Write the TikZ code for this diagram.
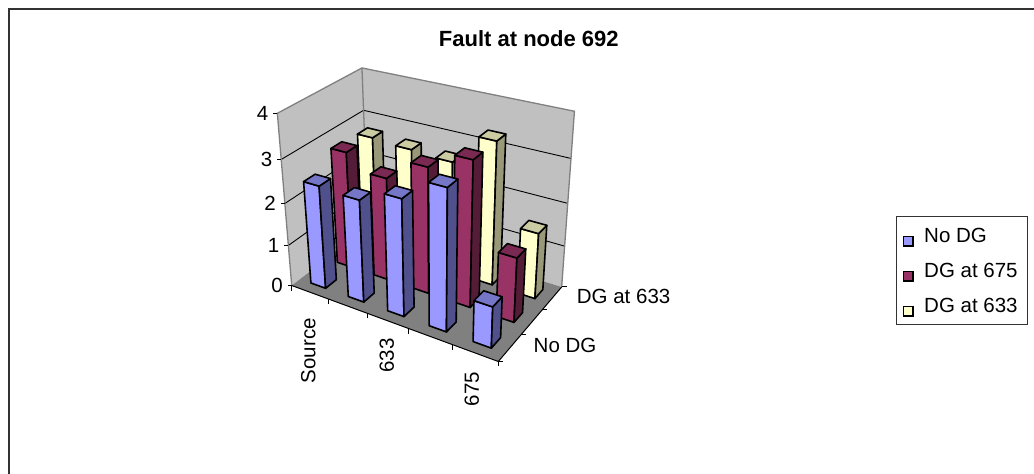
\documentclass[tikz,border=0pt]{standalone}
\usepackage{fontspec}
\setmainfont{Liberation Sans}
\usepackage{tikz}
\definecolor{wallgray}{HTML}{C0C0C0}
\definecolor{floorgray}{HTML}{808080}
\definecolor{nodg}{HTML}{9999FF}
\definecolor{nodgside}{HTML}{50508C}
\definecolor{nodgtop}{HTML}{7676C8}
\definecolor{dg675}{HTML}{993366}
\definecolor{dg675side}{HTML}{551C38}
\definecolor{dg675top}{HTML}{7A2952}
\definecolor{dg633}{HTML}{FFFFCC}
\definecolor{dg633side}{HTML}{99997A}
\definecolor{dg633top}{HTML}{CCCCA3}

% screen point of a chart position: u along categories, v along series, h value
\newcommand\projpt[4]{%
  \pgfmathsetmacro\prjw{1-0.12752*(#2)+0.10834*(#3)-0.022602*(#4)}%
  \pgfmathsetmacro\prjx{(143.06*(#2)+116.17*(#3)+291.7-9.854*(#4))/\prjw}%
  \pgfmathsetmacro\prjy{(29.90*(#2)-33.91*(#3)+285.5-45.61*(#4))/\prjw}%
  \coordinate (#1) at (\prjx,\prjy);}

% one column: category, series, value, colour
\newcommand\colbar[4]{%
  \pgfmathsetmacro\ulo{(#1-1)*0.2+0.06}%
  \pgfmathsetmacro\uhi{\ulo+0.08}%
  \pgfmathsetmacro\vlo{(#2-1)/3+0.1}%
  \pgfmathsetmacro\vhi{\vlo+0.1333}%
  \projpt{f0}{\ulo}{\vlo}{0}\projpt{f1}{\uhi}{\vlo}{0}%
  \projpt{f2}{\uhi}{\vlo}{#3}\projpt{f3}{\ulo}{\vlo}{#3}%
  \projpt{b1}{\uhi}{\vhi}{0}\projpt{b2}{\uhi}{\vhi}{#3}\projpt{b3}{\ulo}{\vhi}{#3}%
  \draw[barface,fill=#4] (f0) -- (f1) -- (f2) -- (f3) -- cycle;
  \draw[barface,fill=#4side] (f1) -- (b1) -- (b2) -- (f2) -- cycle;
  \draw[barface,fill=#4top] (f3) -- (f2) -- (b2) -- (b3) -- cycle;}

\tikzset{
  lbl/.style={font=\fontsize{20.5}{24}\selectfont, inner sep=0pt},
  barface/.style={draw=black, line width=1.6pt, line join=round},
  grid/.style={black, line width=0.9pt},
  walledge/.style={floorgray, line width=1.3pt},
  axisline/.style={black, line width=1pt},
  tick/.style={black, line width=1pt},
  swatch/.style={draw=black, line width=1.2pt},
}

\begin{document}
\begin{tikzpicture}[x=1pt,y=-1pt]
  \useasboundingbox (0,0) rectangle (1034,474);
  \draw[black!80, line width=1.5pt] (9,474) -- (9,9) -- (1034,9);

  % walls and floor
  \projpt{a0}{0}{0}{0} \projpt{a4}{0}{0}{4}
  \projpt{b0}{0}{1}{0} \projpt{b4}{0}{1}{4}
  \projpt{c0}{1}{1}{0} \projpt{c4}{1}{1}{4}
  \projpt{d0}{1}{0}{0}
  \fill[wallgray] (a0) -- (a4) -- (b4) -- (b0) -- cycle;
  \fill[wallgray] (b0) -- (b4) -- (c4) -- (c0) -- cycle;
  \fill[floorgray] (a0) -- (d0) -- (c0) -- (b0) -- cycle;
  \foreach \lv in {1,2,3} {
    \projpt{ga}{0}{0}{\lv} \projpt{gb}{0}{1}{\lv} \projpt{gc}{1}{1}{\lv}
    \draw[grid] (ga) -- (gb) -- (gc);
  }
  \draw[walledge] (a0) -- (a4) -- (b4) -- (c4) -- (c0);
  \draw[walledge] (b4) -- (b0);
  \draw[axisline] (a0) -- (d0) -- (c0);

  % axes
  \foreach \lv in {0,...,4} {
    \projpt{va}{0}{0}{\lv}
    \draw[tick] (va) -- ++(-4,0) node[lbl, anchor=east, inner sep=4.5pt] (val\lv) {\lv};
  }
  \foreach \t in {0,...,5} {
    \projpt{ct}{\t/5}{0}{0}
    \draw[tick] (ct) -- ++(0,5);
  }
  \foreach \t in {0,...,3} {
    \projpt{st}{1}{\t/3}{0}
    \draw[tick] (st) -- ++(5,0);
  }

  % columns, back row first
  \foreach \val [count=\ci] in {2.75,2.7,2.65,3.35,1.55} {\colbar{\ci}{3}{\val}{dg633}}
  \foreach \val [count=\ci] in {2.8,2.45,2.95,3.35,1.5} {\colbar{\ci}{2}{\val}{dg675}}
  \foreach \val [count=\ci] in {2.45,2.4,2.7,3.2,0.95} {\colbar{\ci}{1}{\val}{nodg}}

  % labels
  \node[lbl, rotate=90, anchor=east] (lsource) at (308.3,318) {Source};
  \node[lbl, rotate=90, anchor=east] (l633) at (386.7,338) {633};
  \node[lbl, rotate=90, anchor=east] (l675) at (471.7,371.7) {675};
  \node[lbl, anchor=base west] (snodg) at (533.5,352.7) {No DG};
  \node[lbl, anchor=base west] (s633) at (576.7,303.3) {DG at 633};
  \node[font=\bfseries\fontsize{22}{26}\selectfont, anchor=base, inner sep=0pt] (title) at (528.8,46.7) {Fault at node 692};

  % legend
  \draw[black!80, line width=1pt] (896,216) rectangle (1027.7,324.3);
  \foreach \col/\txt [count=\i] in {nodg/No DG, dg675/DG at 675, dg633/DG at 633} {
    \pgfmathsetmacro\ly{242.5+35*(\i-1)}
    \draw[swatch, fill=\col] (903.5,\ly-6) rectangle ++(9.5,9.5);
    \node[lbl, anchor=base west] (leg\i) at (924,\ly) {\txt};
  }
\end{tikzpicture}
\end{document}
